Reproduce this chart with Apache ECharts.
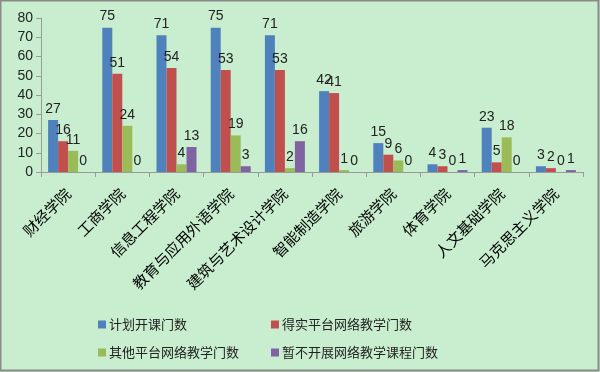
<!DOCTYPE html>
<html><head><meta charset="utf-8">
<script src="https://cdn.jsdelivr.net/npm/echarts@6/dist/echarts.min.js"></script>
<style>html,body{margin:0;padding:0;}#c{width:600px;height:372px;}</style>
</head><body><div id="c"></div>
<script>
const categories = ['财经学院','工商学院','信息工程学院','教育与应用外语学院','建筑与艺术设计学院','智能制造学院','旅游学院','体育学院','人文基础学院','马克思主义学院'];
const seriesNames = ['计划开课门数','得实平台网络教学门数','其他平台网络教学门数','暂不开展网络教学课程门数'];
const planned = [27,75,71,75,71,42,15,4,23,3];
const deshi = [16,51,54,53,53,41,9,3,5,2];
const otherPlatform = [11,24,4,19,2,1,6,0,18,0];
const notStarted = [0,0,13,3,16,0,0,1,0,1];
const yTicks = {min:0, max:80, interval:10};

const colors = ['#4f81bd','#c0504d','#9bbb59','#8064a2'];
const values = [planned, deshi, otherPlatform, notStarted];
const chart = echarts.init(document.getElementById('c'));
const legendPos = [[93,313],[266,313],[93,341],[266,341]];
chart.setOption({
  backgroundColor:'#c8eecf',
  animation:false,
  color: colors,
  graphic:[{type:'rect',shape:{x:0.5,y:0.5,width:598,height:370},style:{fill:'none',stroke:'#8a8a8a',lineWidth:2},silent:true}],
  grid:{left:41,right:17,top:18,bottom:200,containLabel:false},
  legend: seriesNames.map((n,i)=>({data:[n],left:legendPos[i][0],top:legendPos[i][1],itemWidth:8,itemHeight:8,itemGap:4,icon:'rect',textStyle:{fontSize:13,color:'#222',fontFamily:'Noto Sans CJK SC',padding:[0,0,0,-2]}})),
  xAxis:{type:'category',data:categories,
    axisLine:{lineStyle:{color:'#9a9a9a'}},
    axisTick:{show:true,alignWithLabel:false,length:5,lineStyle:{color:'#9a9a9a'}},
    axisLabel:{rotate:45,interval:0,fontSize:15,color:'#000',fontFamily:'Noto Sans CJK SC',margin:19}},
  yAxis:{type:'value',min:yTicks.min,max:yTicks.max,interval:yTicks.interval,
    splitLine:{show:false},
    axisLine:{show:true,lineStyle:{color:'#9a9a9a'}},
    axisTick:{show:true,length:5,lineStyle:{color:'#9a9a9a'}},
    axisLabel:{fontSize:14,color:'#222',fontFamily:'Liberation Sans',margin:8}},
  series: seriesNames.map((n,i)=>({name:n,type:'bar',data:values[i],barWidth:10,barGap:'0%',
    label:{show:true,position:'top',distance:4,fontSize:14,color:'#222',fontFamily:'Liberation Sans'}}))
});
</script></body></html>
